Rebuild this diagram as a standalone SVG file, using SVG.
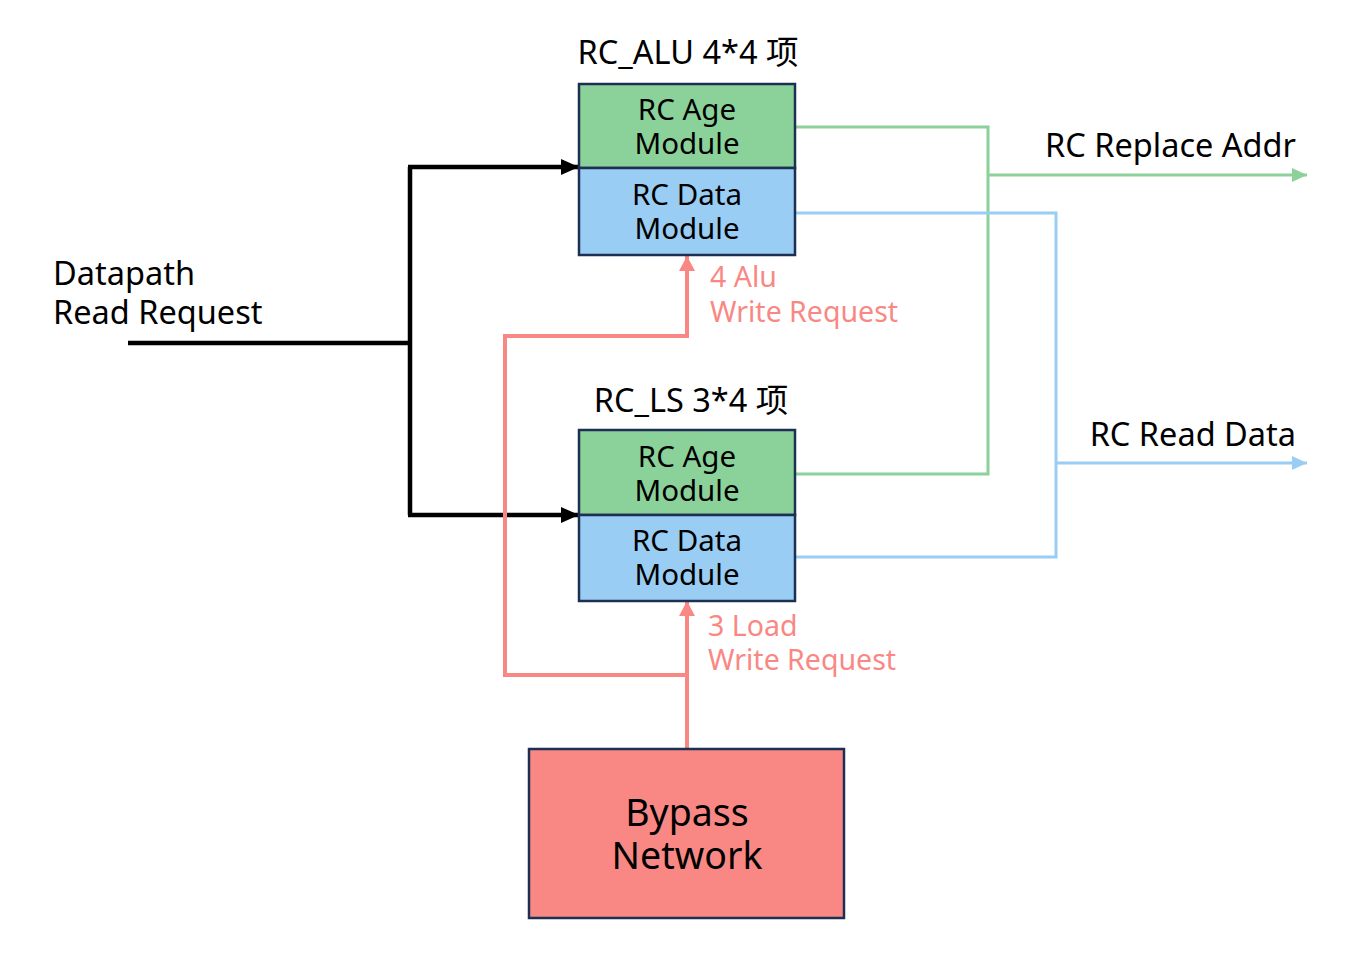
<svg xmlns="http://www.w3.org/2000/svg" width="1364" height="960" viewBox="0 0 1364 960">
<style>
text{font-family:"Noto Sans","Open Sans","Liberation Sans","Noto Sans CJK SC",sans-serif;fill:#000}
.box{stroke:#1d2f52;stroke-width:2.5}
.age{fill:#8bd29a}
.data{fill:#99cdf3}
.byp{fill:#f98885}
.m{font-size:29.5px;text-anchor:middle}
.t{font-size:32.5px}
.pk{font-size:28.5px;fill:#f98885}
.blk{stroke:#000;stroke-width:4.5;fill:none}
.pl{stroke:#f98885;stroke-width:4;fill:none}
.gl{stroke:#8bd29a;stroke-width:3;fill:none}
.bl{stroke:#99cdf3;stroke-width:3;fill:none}
</style>
<defs>
<marker id="ab" markerUnits="userSpaceOnUse" markerWidth="20" markerHeight="20" refX="18" refY="8" orient="auto"><path d="M0,0 L18,8 L0,16 Z" fill="#000"/></marker>
<marker id="ap" markerUnits="userSpaceOnUse" markerWidth="18" markerHeight="18" refX="15" refY="8" orient="auto"><path d="M0,0 L15,8 L0,16 Z" fill="#f98885"/></marker>
<marker id="ag" markerUnits="userSpaceOnUse" markerWidth="16" markerHeight="16" refX="15" refY="7" orient="auto"><path d="M0,0 L15,7 L0,14 Z" fill="#8bd29a"/></marker>
<marker id="abl" markerUnits="userSpaceOnUse" markerWidth="16" markerHeight="16" refX="15" refY="7" orient="auto"><path d="M0,0 L15,7 L0,14 Z" fill="#99cdf3"/></marker>
</defs>
<g id="connectors">
<polyline class="blk" points="128,343 410,343"/>
<polyline class="blk" points="410,167 410,515"/>
<polyline class="blk" points="408,167 579,167" marker-end="url(#ab)"/>
<polyline class="blk" points="408,515 579,515" marker-end="url(#ab)"/>
<polyline class="pl" points="687,749 687,601" marker-end="url(#ap)"/>
<polyline class="pl" points="687,675 505,675 505,336 687,336 687,256" marker-end="url(#ap)"/>
<polyline class="gl" points="795,127 988,127 988,474 795,474"/>
<polyline class="gl" points="988,175 1307,175" marker-end="url(#ag)"/>
<polyline class="bl" points="795,213 1056,213 1056,557 795,557"/>
<polyline class="bl" points="1056,463 1307,463" marker-end="url(#abl)"/>
</g>
<g id="rc_alu">
<text class="t" x="688" y="64" text-anchor="middle">RC_ALU 4*4 项</text>
<rect class="box age" x="579" y="84" width="216" height="84"/>
<rect class="box data" x="579" y="168" width="216" height="87"/>
<text class="m" x="687" y="120">RC Age</text>
<text class="m" x="687" y="154">Module</text>
<text class="m" x="687" y="205">RC Data</text>
<text class="m" x="687" y="239">Module</text>
</g>
<g id="rc_ls">
<text class="t" x="691" y="412" text-anchor="middle">RC_LS 3*4 项</text>
<rect class="box age" x="579" y="430" width="216" height="85"/>
<rect class="box data" x="579" y="515" width="216" height="86"/>
<text class="m" x="687" y="467">RC Age</text>
<text class="m" x="687" y="501">Module</text>
<text class="m" x="687" y="551">RC Data</text>
<text class="m" x="687" y="585">Module</text>
</g>
<g id="bypass">
<rect class="box byp" x="529" y="749" width="315" height="169"/>
<text x="687" y="826" font-size="37.5" text-anchor="middle">Bypass</text>
<text x="687" y="869" font-size="37.5" text-anchor="middle">Network</text>
</g>
<g id="labels">
<text class="t" x="53" y="285">Datapath</text>
<text class="t" x="53" y="324">Read Request</text>
<text class="t" x="1296" y="157" text-anchor="end">RC Replace Addr</text>
<text class="t" x="1296" y="446" text-anchor="end">RC Read Data</text>
<text class="pk" x="710" y="287">4 Alu</text>
<text class="pk" x="710" y="322">Write Request</text>
<text class="pk" x="708" y="636">3 Load</text>
<text class="pk" x="708" y="670">Write Request</text>
</g>
</svg>
